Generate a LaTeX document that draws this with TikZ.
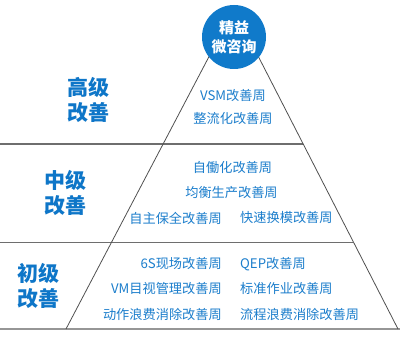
\documentclass[tikz,border=0pt]{standalone}
\usepackage{fontspec}
\setmainfont{Noto Sans CJK SC}
\begin{document}
\begin{tikzpicture}[x=1pt,y=-1pt,
  item/.style={text=itemblue,font=\fontsize{13.2}{15}\selectfont,inner sep=0pt},
  lvl/.style={text=lvlblue,font=\fontsize{21}{25}\selectfont\bfseries,align=center,inner sep=0pt},
  hline/.style={draw=linegray,line width=1.3pt},
  edge/.style={draw=edgegray,line width=0.8pt}]
\definecolor{itemblue}{RGB}{28,126,204}
\definecolor{lvlblue}{RGB}{14,118,200}
\definecolor{circblue}{RGB}{16,122,202}
\definecolor{linegray}{RGB}{110,110,110}
\definecolor{edgegray}{RGB}{80,80,80}
\definecolor{basegray}{RGB}{150,150,150}
\useasboundingbox (0,0) rectangle (400,344);
\fill[white] (0,0) rectangle (400,344);
% horizontal lines
\coordinate (h1l) at (0,144); \coordinate (h1r) at (303,144);
\coordinate (h2l) at (0,242.5); \coordinate (h2r) at (353,242.5);
\coordinate (h3l) at (0,329); \coordinate (h3r) at (400,329);
\draw[hline] (h1l) -- (h1r);
\draw[hline] (h2l) -- (h2r);
\draw[draw=basegray,line width=2pt] (h3l) -- (h3r);
% triangle edges
\coordinate (apex) at (234,9);
\coordinate (bl) at (66,329);
\coordinate (br) at (398,329);
\draw[edge] (apex) -- (bl);
\draw[edge] (apex) -- (br);
% top circle
\node[circle,fill=circblue,minimum size=64pt,inner sep=0pt,text=white,align=center,
  font=\fontsize{15}{19}\selectfont\bfseries] (top) at (234,37) {精益\\微咨询};
% level labels
\node[lvl] (high) at (88,100) {高级\\改善};
\node[lvl] (mid) at (66,193) {中级\\改善};
\node[lvl] (low) at (38,286) {初级\\改善};
% top tier
\node[item] (a1) at (233,96) {VSM改善周};
\node[item] (a2) at (233,119) {整流化改善周};
% middle tier
\node[item] (b1) at (232.5,168) {自働化改善周};
\node[item] (b2) at (231.5,193) {均衡生产改善周};
\node[item,anchor=east] (b3) at (222,218) {自主保全改善周};
\node[item,anchor=west] (b4) at (240,218) {快速换模改善周};
% bottom tier
\node[item,anchor=east] (c1) at (222,264) {6S现场改善周};
\node[item,anchor=west] (c2) at (240,264) {QEP改善周};
\node[item,anchor=east] (c3) at (222,289) {VM目视管理改善周};
\node[item,anchor=west] (c4) at (240,289) {标准作业改善周};
\node[item,anchor=east] (c5) at (222,314) {动作浪费消除改善周};
\node[item,anchor=west] (c6) at (240,314) {流程浪费消除改善周};
\end{tikzpicture}
\end{document}
